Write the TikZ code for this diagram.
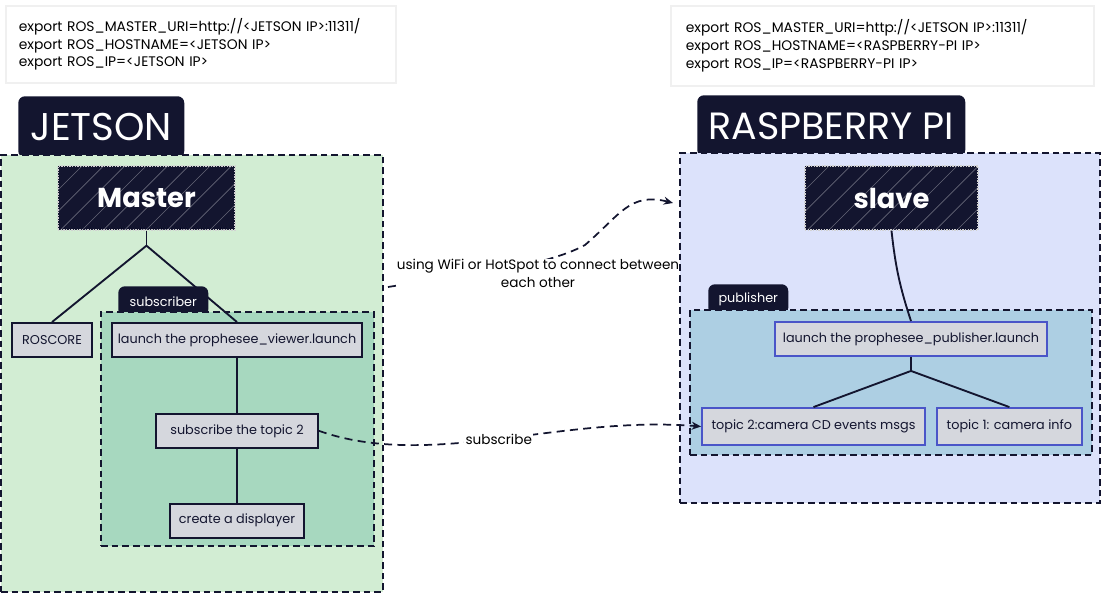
\documentclass[tikz,border=0pt]{standalone}
\usepackage{fontspec}
\setmainfont{Poppins}
\usetikzlibrary{positioning,fit,arrows.meta}
\definecolor{navy}{HTML}{13152F}
\definecolor{jetsongreen}{HTML}{D2EDD3}
\definecolor{subgreen}{HTML}{A7D8BF}
\definecolor{pilav}{HTML}{DCE2FB}
\definecolor{pubblue}{HTML}{ADCFE3}
\definecolor{taskgray}{HTML}{D5D7DD}
\definecolor{pubedge}{HTML}{4A55C8}
\tikzset{flow/.style={draw=navy, line width=1.3pt, dash pattern=on 6pt off 4pt, -{Stealth[length=7pt,width=6pt]}}}

\begin{document}
\begin{tikzpicture}[x=0.75pt, y=-0.75pt, font=\fontsize{9.6}{13.5}\selectfont,
  exportbox/.style={draw=gray!12, line width=1.2pt, fill=white, anchor=north west, align=left, inner ysep=0pt,
    font=\fontsize{10.4}{13.2}\selectfont},
  tab/.style={fill=navy, rounded corners=5pt, inner sep=0pt, text=white, anchor=north west},
  group/.style={draw=navy, line width=1.3pt, dash pattern=on 5pt off 3pt, inner sep=0pt},
  task/.style={draw=navy, line width=1.4pt, fill=taskgray, text=navy, inner sep=0pt, minimum height=25.5pt},
  head/.style={fill=navy, text=white, inner sep=0pt, minimum height=48pt, draw=white!65!gray, densely dotted, line width=1pt,
    font=\fontsize{20.5}{20.5}\selectfont\bfseries,
    path picture={\foreach \k in {0,...,9}{\draw[white, opacity=.35, solid, line width=.5pt] ([xshift=\k*16pt-30pt]path picture bounding box.south west) -- ++(50pt,50pt);}}},
  note/.style={fill=white, inner sep=0pt, font=\fontsize{10.2}{13.5}\selectfont},
  link/.style={draw=navy, line width=1.4pt}]
\useasboundingbox (0,0) rectangle (1116,610);

% export settings
\node[exportbox, text width=273pt, inner xsep=9.75pt, minimum height=57.75pt] (jetsonenv) at (5,5)
  {export ROS\_MASTER\_URI=http://<JETSON IP>:11311/\\export ROS\_HOSTNAME=<JETSON IP>\\export ROS\_IP=<JETSON IP>};
\node[exportbox, text width=294.75pt, inner xsep=11.25pt, minimum height=60pt] (pienv) at (670,5)
  {export ROS\_MASTER\_URI=http://<JETSON IP>:11311/\\export ROS\_HOSTNAME=<RASPBERRY-PI IP>\\export ROS\_IP=<RASPBERRY-PI IP>};

% jetson side
\node[tab, minimum width=124.5pt, minimum height=46pt, font=\fontsize{29}{29}\selectfont] (jetsontab) at (18,96) {JETSON};
\node[group, fill=jetsongreen, fit={(1,155) (383,592)}] (jetsonbox) {};
\node[tab, minimum width=67.5pt, minimum height=22.5pt] (subtab) at (118,286) {subscriber};
\node[group, fill=subgreen, fit={(101,312) (374,546)}] (subbox) {};

\node[head, minimum width=132.75pt] (master) at (146.5,198) {Master};
\node[task, minimum width=60pt] (roscore) at (52,340) {ROSCORE};
\node[task, minimum width=187.5pt] (viewer) at (237,340) {launch the prophesee\_viewer.launch};
\node[task, minimum width=121.5pt, below=41.25pt of viewer] (subtopic) {subscribe the topic 2};
\node[task, minimum width=100.5pt, below=40.5pt of subtopic] (display) {create a displayer};

% raspberry side
\node[tab, minimum width=201pt, minimum height=46pt, font=\fontsize{28.5}{28.5}\selectfont] (pitab) at (697,95) {RASPBERRY PI};
\node[group, fill=pilav, fit={(680,153) (1100,503)}] (pibox) {};
\node[tab, minimum width=60pt, minimum height=22.5pt] (pubtab) at (708,284) {publisher};
\node[group, fill=pubblue, fit={(690,310) (1092,455)}] (pubbox) {};

\node[head, minimum width=129.75pt] (slave) at (891.5,198) {slave};
\node[task, draw=pubedge, minimum width=204pt] (publaunch) at (911,339) {launch the prophesee\_publisher.launch};
\node[task, draw=pubedge, minimum width=167.25pt, minimum height=27.75pt] (topictwo) at (813.5,426.5) {topic 2:camera CD events msgs};
\node[task, draw=pubedge, minimum width=108.75pt, minimum height=27.75pt, right=7.5pt of topictwo] (topicone) {topic 1: camera info};

% tree lines
\draw[link] (master.south) -- ++(0,15) coordinate (mfork);
\draw[link] (mfork) -- (roscore.north);
\draw[link] (mfork) -- (viewer.north);
\draw[link] (viewer) -- (subtopic);
\draw[link] (subtopic) -- (display);
\draw[link] (slave.south) to[bend right=6] (publaunch.north);
\draw[link] (publaunch.south) -- ++(0,14) coordinate (pfork);
\draw[link] (pfork) -- (topictwo.north);
\draw[link] (pfork) -- (topicone.north);

% links between boards
\draw[flow] (subtopic.east) .. controls (430,470) and (560,415) .. node[pos=.5, note, inner sep=1pt] (sublabel) {subscribe} (topictwo.west);
\coordinate (wifistart) at (388,287);
\coordinate (wifiend) at (673,203);
\draw[flow] (wifistart) .. controls (430,280) and (540,270) .. (585,245) .. controls (620,215) and (630,192) .. (wifiend);
\node[note, align=center] (wifilabel) at (538,273) {using WiFi or HotSpot to connect between\\each other};
\end{tikzpicture}
\end{document}
